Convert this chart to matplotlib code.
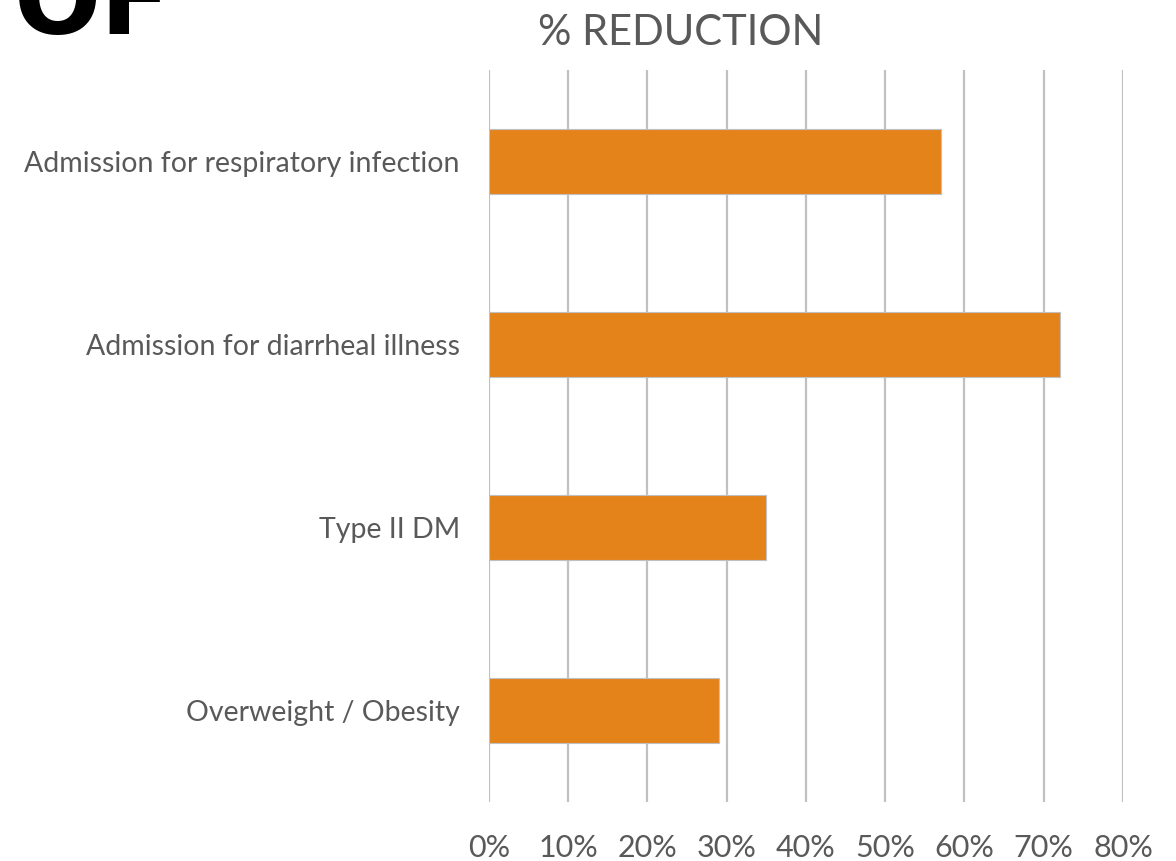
import numpy as np
import matplotlib.pyplot as plt
from matplotlib.ticker import FuncFormatter

categories = ["Admission for respiratory infection", "Admission for diarrheal illness",
              "Type II DM", "Overweight / Obesity"]
reduction = [0.57, 0.72, 0.35, 0.29]
xticks = [0, 0.1, 0.2, 0.3, 0.4, 0.5, 0.6, 0.7, 0.8]

plt.rcParams['font.family'] = ['Lato', 'DejaVu Sans']
grey = '#595959'

fig = plt.figure(figsize=(11.76, 8.61), dpi=100)
ax = fig.add_axes([0.4158, 0.0685, 0.5391, 0.8502])

y = np.arange(len(categories))
ax.barh(y, reduction, height=0.35, color='#e3831a', edgecolor='#c0c0c0',
        linewidth=0.8, zorder=3)
ax.set_ylim(len(categories) - 0.5, -0.5)
ax.set_xlim(0, 0.8)
ax.set_yticks(y)
ax.set_yticklabels(categories)
ax.set_xticks(xticks)
ax.xaxis.set_major_formatter(FuncFormatter(lambda v, p: f"{v*100:.0f}%"))
ax.grid(axis='x', color='#c0c0c0', linewidth=1.6, zorder=0)
for s in ax.spines.values():
    s.set_visible(False)
ax.tick_params(axis='x', length=0, pad=23, labelsize=22, labelcolor=grey)
ax.tick_params(axis='y', length=0, pad=21, labelsize=20.5, labelcolor=grey)

fig.text(0.579, 0.962, "% REDUCTION", ha='center', va='center',
         fontsize=30, color=grey)
fig.text(0.012, 1 - 34 / 861, "OF", ha='left', va='baseline',
         fontsize=74, fontweight='bold', color='black', family='DejaVu Sans')

fig.savefig('out.png', dpi=100)
